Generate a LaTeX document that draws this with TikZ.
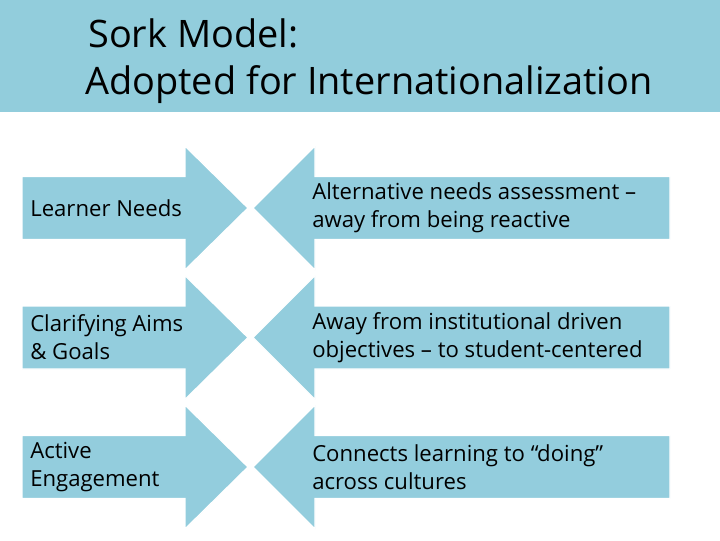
\documentclass[tikz,border=0pt]{standalone}
\usepackage{fontspec}
\setmainfont{Open Sans}
\definecolor{band}{RGB}{146,205,220}
\definecolor{arrowfill}{RGB}{147,205,221}
\begin{document}
\begin{tikzpicture}[x=0.75pt,y=-0.75pt,
  titletext/.style={anchor=base west,inner sep=0pt,font=\fontsize{28.4}{32}\selectfont},
  bodytext/.style={anchor=west,inner sep=0pt,align=left,font=\fontsize{16.6}{21}\selectfont},
  arrowshape/.style={fill=arrowfill,draw=white,line width=1pt}]
\useasboundingbox (0,0) rectangle (720,540);
\fill[band] (0,0) rectangle (720,112);
\node[titletext] (t1) at (88,47) {Sork Model:};
\node[titletext] (t2) at (85,94) {Adopted for Internationalization};
\foreach \cy/\lt/\rt/\nm in {208/{Learner Needs}/{Alternative needs assessment –\\away from being reactive}/a,
  337.5/{Clarifying Aims\\\& Goals}/{Away from institutional driven\\objectives – to student-centered}/b,
  467/{Active\\Engagement}/{Connects learning to “doing”\\across cultures}/c}{
  \path[arrowshape] (22,\cy-31.5) -- (185,\cy-31.5) -- (185,\cy-62) -- (248,\cy) -- (185,\cy+62) -- (185,\cy+31.5) -- (22,\cy+31.5) -- cycle;
  \path[arrowshape] (670,\cy-31.5) -- (315,\cy-31.5) -- (315,\cy-62) -- (253,\cy) -- (315,\cy+62) -- (315,\cy+31.5) -- (670,\cy+31.5) -- cycle;
  \node[bodytext] (l\nm) at (30,\cy) {\lt};
  \node[bodytext] (r\nm) at (312,\cy) {\rt};
}
\end{tikzpicture}
\end{document}
